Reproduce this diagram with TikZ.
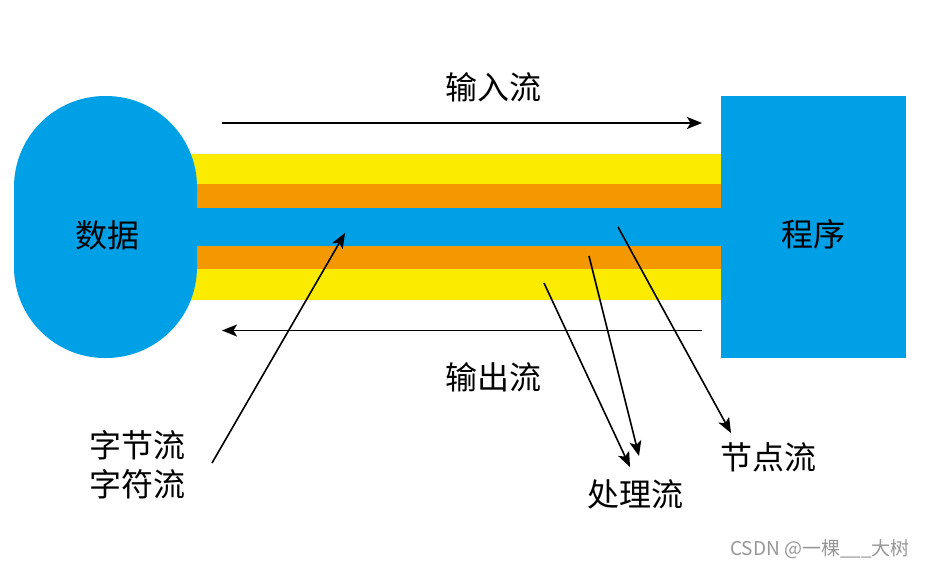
\documentclass[tikz,border=0pt]{standalone}
\usepackage{fontspec}
\newfontfamily\cjk{Noto Sans CJK SC}
\usetikzlibrary{arrows.meta}
\definecolor{cblue}{RGB}{0,160,230}
\definecolor{cyellow}{RGB}{250,235,0}
\definecolor{corange}{RGB}{243,152,0}
\definecolor{wmgray}{RGB}{150,150,150}
\begin{document}
\begin{tikzpicture}[x=1pt,y=-1pt,
  lbl/.style={font=\cjk\fontsize{32}{39}\selectfont, inner sep=0pt, align=center},
  arr/.style={line width=1.6pt, -{Stealth[length=15pt,width=12pt,inset=3.5pt]}}]
\useasboundingbox (0,0) rectangle (926,568);
% bands
\fill[cyellow] (190,154) rectangle (721,300);
\fill[corange] (190,184) rectangle (721,269);
\fill[cblue] (190,207.5) rectangle (721,245.5);
% left blob
\fill[cblue, rounded corners=91pt] (14,96) rectangle (197,358);
\node[lbl] (data) at (107,235) {数据};
% right box
\fill[cblue] (721,96) rectangle (906,358);
\node[lbl] (prog) at (813,234) {程序};
% labels
\node[lbl] (in) at (493,87) {输入流};
\node[lbl] (out) at (493,377) {输出流};
\node[lbl] (byte) at (137,465) {字节流\\字符流};
\node[lbl] (proc) at (635,494) {处理流};
\node[lbl] (nodef) at (768,457) {节点流};
\node[font=\cjk\fontsize{19}{21}\selectfont, text=wmgray, inner sep=0pt] (wm) at (820,549) {CSDN @一棵\_\_\_大树};
% coordinates
\coordinate (inA) at (222,123); \coordinate (inB) at (702,123);
\coordinate (outA) at (702,330.5); \coordinate (outB) at (222,330.5);
\coordinate (b1) at (212,463); \coordinate (b2) at (345,233);
\coordinate (p1) at (544,283); \coordinate (p2) at (630,467);
\coordinate (p3) at (589,256); \coordinate (p4) at (639,456);
\coordinate (n1) at (618,227); \coordinate (n2) at (731,433);
% arrows
\draw[arr] (inA) -- (inB);
\draw[arr] (outA) -- (outB);
\draw[arr] (b1) -- (b2);
\draw[arr] (p1) -- (p2);
\draw[arr] (p3) -- (p4);
\draw[arr] (n1) -- (n2);
\end{tikzpicture}
\end{document}
